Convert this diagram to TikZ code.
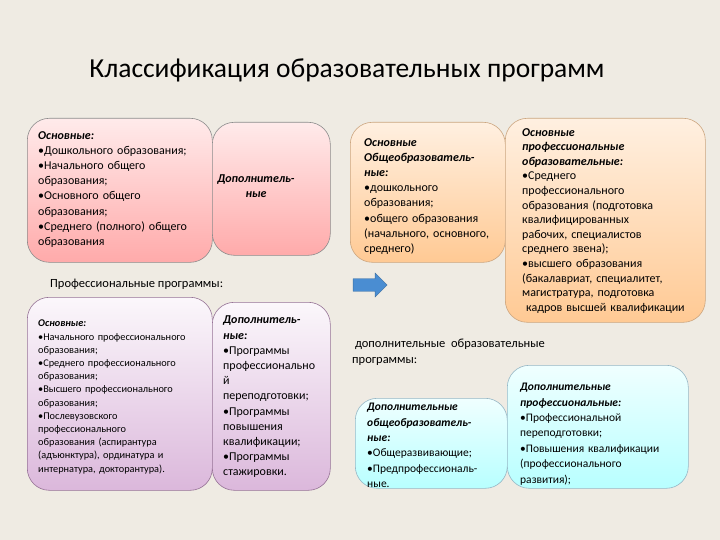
\documentclass[tikz,border=0pt]{standalone}
\usepackage{fontspec}
\setmainfont{Carlito}
\usetikzlibrary{shapes.arrows}
\definecolor{bg}{HTML}{EFEBE3}
\newcommand{\fs}[2]{\fontsize{#1}{#2}\selectfont\lineskiplimit=-20pt\relax}
\tikzset{
 x=1pt,y=-1pt,
 box/.style={draw, rounded corners=22pt, anchor=north west, line width=0.6pt},
 pinkbox/.style={box, draw=black!45, top color=red!8, bottom color=red!30!pink!70},
 orangebox/.style={box, draw=orange!60!black!50, top color=orange!12, bottom color=orange!42},
 purplebox/.style={box, draw=violet!50!black!55, top color=violet!3, bottom color=violet!28},
 bluebox/.style={box, draw=cyan!50!black!50, top color=cyan!6, bottom color=cyan!28},
 txt/.style={anchor=north west, align=left, inner sep=0pt},
}
\begin{document}
\begin{tikzpicture}
\fill[bg] (0,0) rectangle (720,540);
\useasboundingbox (0,0) rectangle (720,540);
\node[anchor=center, inner sep=0pt, font={\fs{27.5}{30}}] (title) at (347,70) {Классификация образовательных программ};
% pink
\node[pinkbox, minimum width=185pt, minimum height=144pt] (b1) at (27,118) {};
\node[pinkbox, minimum width=118pt, minimum height=133pt] (b2) at (212,122) {};
\node[txt, text width=175pt, font={\fs{12}{15.2}}] (t1) at (38,131) {\textbf{\textit{Основные:}}\\•Дошкольного образования;\\•Начального общего\\образования;\\•Основного общего\\образования;\\•Среднего (полного) общего\\образования};
\node[align=center, inner sep=0pt, font={\fs{12}{15}}] (t2) at (256,186) {\textbf{\textit{Дополнитель-}}\\\textbf{\textit{ные}}};
% orange
\node[orangebox, minimum width=155pt, minimum height=140pt] (b3) at (350,122) {};
\node[orangebox, minimum width=200pt, minimum height=204pt] (b4) at (505,118) {};
\node[txt, text width=150pt, font={\fs{12}{15.2}}] (t3) at (364,138) {\textbf{\textit{Основные}}\\\textbf{\textit{Общеобразователь-}}\\\textbf{\textit{ные:}}\\•дошкольного\\образования;\\•общего образования\\(начального, основного,\\среднего)};
\node[txt, text width=195pt, font={\fs{12}{14.6}}] (t4) at (522,128) {\textbf{\textit{Основные}}\\\textbf{\textit{профессиональные}}\\\textbf{\textit{образовательные:}}\\•Среднего\\профессионального\\образования (подготовка\\квалифицированных\\рабочих, специалистов\\среднего звена);\\•высшего образования\\(бакалавриат, специалитет,\\магистратура, подготовка\\\ кадров высшей квалификации};
% label + arrow
\node[txt, font={\fs{12.5}{14}}] (pp) at (50,279) {Профессиональные программы:};
\node[single arrow, draw=cyan!60!blue!70!black, fill=cyan!55!blue!75, minimum height=34pt, minimum width=24pt, single arrow head extend=2pt, inner sep=2pt] (arr) at (367,285) {};
% purple
\node[purplebox, minimum width=185pt, minimum height=193pt] (b5) at (27,297) {};
\node[purplebox, minimum width=118pt, minimum height=188pt] (b6) at (212,302) {};
\node[txt, text width=180pt, font={\fs{10.3}{13.2}}] (t5) at (38,320) {\textbf{\textit{Основные:}}\\•Начального профессионального\\образования;\\•Среднего профессионального\\образования;\\•Высшего профессионального\\образования;\\•Послевузовского\\профессионального\\образования (аспирантура\\(адъюнктура), ординатура и\\интернатура, докторантура).};
\node[txt, text width=112pt, font={\fs{12}{15.2}}] (t6) at (223,316) {\textbf{\textit{Дополнитель-}}\\\textbf{\textit{ные:}}\\•Программы\\профессионально\\й\\переподготовки;\\•Программы\\повышения\\квалификации;\\•Программы\\стажировки.};
% blue
\node[txt, font={\fs{12.5}{16}}] (dop) at (352,339) {\ дополнительные\ \ образовательные\\программы:};
\node[bluebox, minimum width=152pt, minimum height=90pt] (b7) at (355,398) {};
\node[bluebox, minimum width=181pt, minimum height=123pt] (b8) at (507,365) {};
\node[txt, text width=150pt, font={\fs{11.5}{15.4}}] (t7) at (367,403) {\textbf{\textit{Дополнительные}}\\\textbf{\textit{общеобразователь-}}\\\textbf{\textit{ные:}}\\•Общеразвивающие;\\•Предпрофессиональ-\\ные.};
\node[txt, text width=178pt, font={\fs{11.5}{15.4}}] (t8) at (520,383) {\textbf{\textit{Дополнительные}}\\\textbf{\textit{профессиональные:}}\\•Профессиональной\\переподготовки;\\•Повышения квалификации\\(профессионального\\развития);};
\end{tikzpicture}
\end{document}
